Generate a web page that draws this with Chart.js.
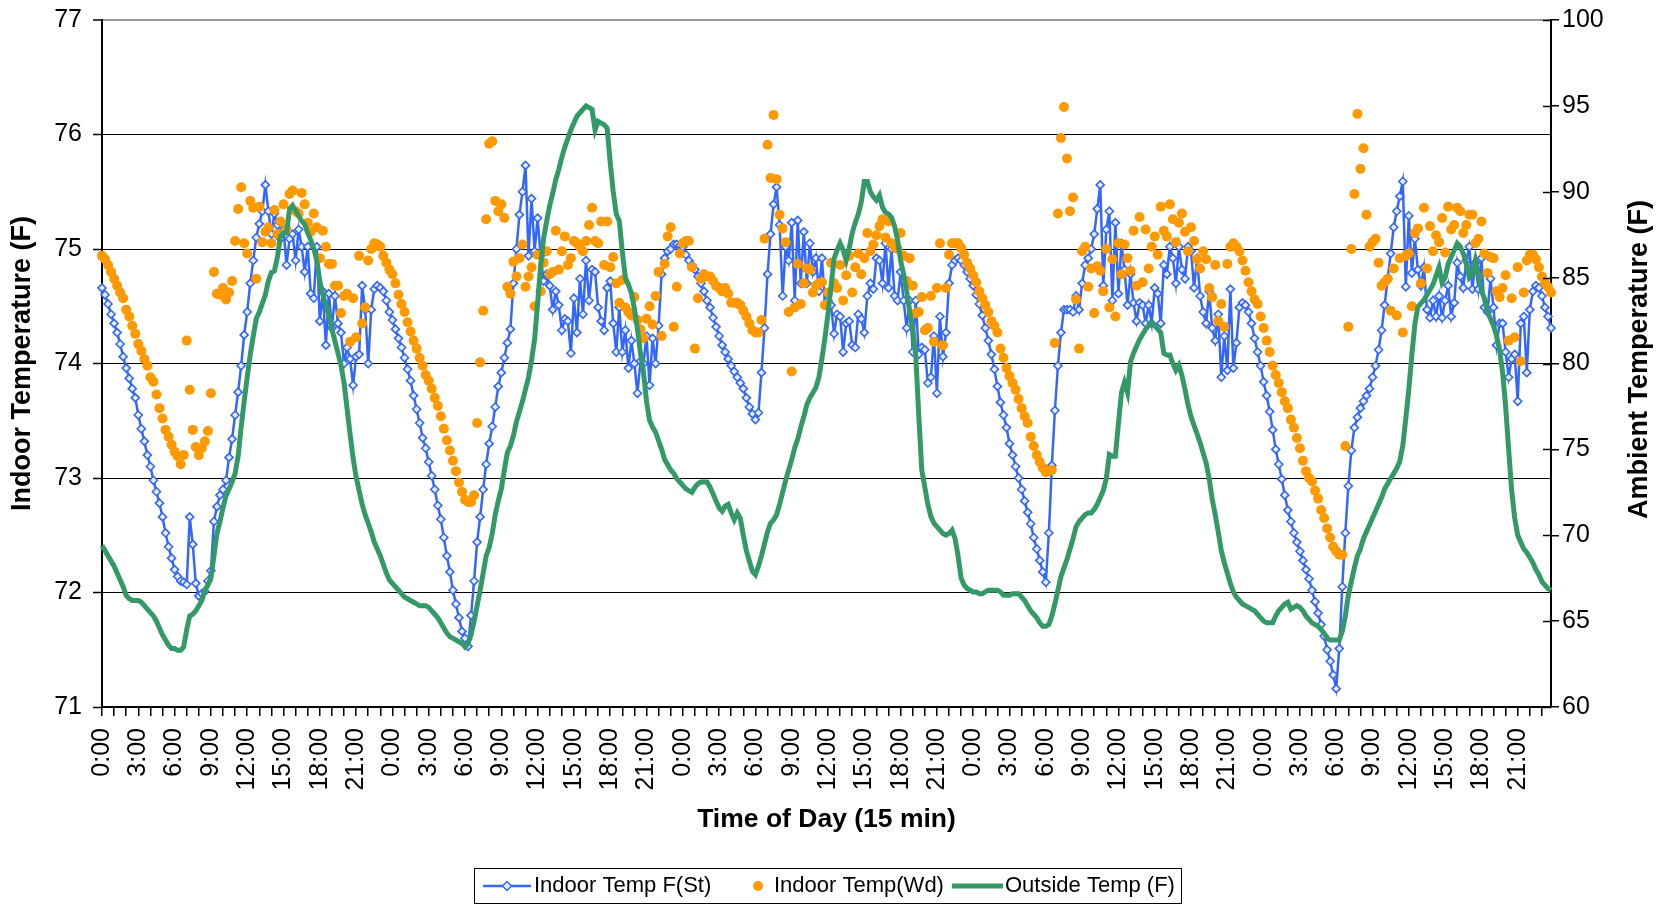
<!DOCTYPE html>
<html>
<head>
<meta charset="utf-8">
<title>Indoor vs Outside Temperature</title>
<script src="https://cdn.jsdelivr.net/npm/chart.js@4.4.1/dist/chart.umd.min.js"></script>
<style>
  html, body { margin: 0; padding: 0; background: #fff; }
  #wrap { position: relative; width: 1664px; height: 906px; }
</style>
</head>
<body>
<div id="wrap"><canvas id="tempChart" width="1664" height="906"></canvas></div>
<script>
// 5 days of 15 minute readings (480 points)
const timeLabels = [];
for (let d = 0; d < 5; d++) {
  for (let h = 0; h < 24; h++) {
    for (let m = 0; m < 60; m += 15) {
      timeLabels.push(h + ':' + (m === 0 ? '00' : m));
    }
  }
}

const indoorSt = [
  74.66,74.60,74.52,74.43, 74.35,74.27,74.17,74.06, 73.96,73.87,73.78,73.70, 73.55,73.43,73.32,73.20, 73.10,72.98,72.88,72.78, 72.66,72.52,72.40,72.30,
  72.20,72.14,72.10,72.09, 72.07,72.66,72.42,72.08, 71.97,71.99,72.01,72.10, 72.19,72.62,72.75,72.85, 72.90,72.98,73.18,73.34, 73.55,73.75,73.98,74.25,
  74.45,74.70,74.90,75.10, 75.22,75.33,75.56,75.33, 75.13,75.31,75.21,75.09, 75.17,74.86,75.09,75.13, 74.90,75.17,75.02,74.80, 75.02,74.61,74.57,75.02,
  74.37,74.63,74.16,74.61, 74.31,74.59,74.35,74.27, 74.00,74.14,74.04,73.81, 74.06,74.08,74.68,74.47, 74.00,74.47,74.65,74.68, 74.66,74.63,74.55,74.45,
  74.38,74.30,74.22,74.14, 74.05,73.95,73.85,73.72, 73.60,73.48,73.35,73.26, 73.14,73.02,72.90,72.76, 72.64,72.48,72.32,72.18, 72.02,71.90,71.78,71.66,
  71.60,71.53,71.80,72.10, 72.44,72.66,72.90,73.12, 73.30,73.45,73.62,73.80, 73.92,74.05,74.18,74.30, 74.70,75.00,75.30,75.50, 75.73,74.94,75.44,74.98,
  75.27,74.94,74.72,74.78, 74.68,74.47,74.63,74.51, 74.29,74.39,74.37,74.09, 74.57,74.27,74.74,74.43, 74.90,74.55,74.82,74.80, 74.49,74.37,74.29,74.66,
  74.72,74.35,74.10,74.49, 74.10,74.29,73.96,74.20, 74.00,73.74,74.02,74.00, 74.24,73.81,74.22,74.00, 74.33,74.78,74.92,74.98, 75.00,75.04,75.04,75.03,
  75.02,74.95,74.90,74.86, 74.82,74.76,74.70,74.63, 74.55,74.49,74.40,74.32, 74.24,74.16,74.10,74.04, 73.98,73.93,73.88,73.83, 73.78,73.70,73.62,73.56,
  73.51,73.57,73.92,74.31, 74.78,75.13,75.39,75.54, 75.21,74.59,75.02,74.90, 75.23,74.55,75.25,74.70, 75.15,74.70,75.05,74.80, 74.92,74.63,74.92,74.51,
  74.55,74.51,74.26,74.43, 74.41,74.10,74.35,74.37, 74.16,74.14,74.43,74.39, 74.27,74.59,74.70,74.65, 74.92,74.90,74.70,75.05, 74.66,75.00,74.59,74.55,
  74.80,74.55,74.31,74.55, 74.10,74.55,74.08,74.14, 74.12,73.83,73.88,74.24, 73.74,74.41,74.06,74.27, 74.70,74.86,74.90,74.92, 74.90,74.86,74.80,74.74,
  74.68,74.60,74.52,74.42, 74.31,74.20,74.08,73.95, 73.80,73.66,73.55,73.44, 73.30,73.20,73.10,73.00, 72.90,72.80,72.70,72.60, 72.48,72.38,72.28,72.18,
  72.09,72.52,73.11,73.59, 73.98,74.27,74.47,74.47, 74.47,74.45,74.59,74.47, 74.70,74.86,74.92,75.00, 75.13,75.35,75.56,74.68, 75.17,75.33,74.55,75.23,
  74.61,75.05,74.82,74.51, 74.78,74.53,74.37,74.53, 74.51,74.35,74.51,74.35, 74.66,74.61,74.35,74.86, 74.78,75.02,74.92,74.70, 75.02,74.82,74.74,75.02,
  74.98,74.66,74.92,74.59, 74.45,74.35,74.63,74.31, 74.20,74.43,73.88,74.24, 73.94,74.65,73.96,74.18, 74.49,74.53,74.51,74.45, 74.35,74.22,74.10,73.98,
  73.84,73.72,73.58,73.42, 73.25,73.12,72.99,72.85, 72.72,72.62,72.52,72.44, 72.36,72.28,72.20,72.12, 72.02,71.92,71.82,71.72, 71.62,71.50,71.40,71.28,
  71.16,71.51,72.05,72.52, 72.93,73.24,73.44,73.53, 73.61,73.67,73.72,73.78, 73.88,73.98,74.12,74.29, 74.51,74.74,74.96,75.19, 75.33,75.46,75.59,74.67,
  75.29,74.79,75.09,74.82, 74.68,74.84,74.47,74.40, 74.55,74.41,74.59,74.40, 74.55,74.68,74.41,74.53, 74.88,74.76,74.66,74.90, 75.02,74.65,74.88,74.65,
  74.92,74.49,74.45,74.74, 74.49,74.16,74.35,74.35, 74.10,73.88,74.04,74.08, 73.67,74.35,74.41,73.92, 74.47,74.63,74.68,74.66, 74.59,74.49,74.41,74.31
];

const indoorWd = [
  74.94,74.91,74.86,74.80, 74.74,74.68,74.62,74.57, 74.47,74.41,74.33,74.26, 74.17,74.11,74.04,73.98, 73.88,73.84,73.73,73.61, 73.52,73.42,73.36,73.29,
  73.23,73.19,73.12,73.20, 74.20,73.77,73.42,73.27, 73.20,73.26,73.32,73.41, 73.74,74.80,74.61,74.60, 74.66,74.56,74.62,74.72, 75.07,75.35,75.54,75.05,
  74.96,75.42,75.36,74.74, 75.37,75.06,75.15,75.19, 75.05,75.34,75.13,75.24, 75.39,75.17,75.48,75.51, 75.33,75.31,75.49,75.39, 75.23,75.15,75.31,75.19,
  74.92,75.16,75.02,74.87, 74.87,74.68,74.68,74.44, 74.59,74.61,74.19,74.57, 74.23,74.94,74.35,74.49, 74.90,75.00,75.05,75.04, 75.02,74.94,74.88,74.82,
  74.78,74.70,74.60,74.52, 74.45,74.36,74.28,74.20, 74.13,74.05,73.98,73.90, 73.85,73.78,73.70,73.63, 73.54,73.43,73.33,73.24, 73.15,73.06,72.96,72.88,
  72.81,72.79,72.79,72.85, 73.48,74.01,74.46,75.26, 75.92,75.94,75.42,75.33, 75.39,75.27,74.67,74.61, 74.89,74.76,74.92,75.04, 74.67,74.76,74.84,74.50,
  74.95,74.63,74.88,74.98, 74.78,74.80,75.16,74.82, 74.98,75.11,74.86,74.92, 75.07,75.05,75.02,74.98, 75.07,75.21,75.36,75.07, 75.05,75.24,74.86,75.24,
  74.84,74.93,74.70,74.53, 74.73,74.49,74.45,74.42, 74.58,74.38,74.30,74.22, 74.39,74.50,74.34,74.59, 74.80,74.24,74.87,75.11, 75.19,74.32,74.67,74.96,
  75.05,75.07,75.07,74.84, 74.13,74.57,74.74,74.78, 74.76,74.76,74.72,74.68, 74.66,74.63,74.66,74.61, 74.53,74.53,74.53,74.51, 74.46,74.41,74.35,74.29,
  74.27,74.27,74.38,75.09, 75.91,75.62,76.17,75.61, 75.30,75.18,75.06,74.45, 73.93,74.49,74.87,74.52, 74.70,74.83,74.82,74.62, 74.68,74.70,74.71,74.51,
  74.62,74.88,74.70,74.66, 74.86,74.55,74.77,74.94, 74.62,74.84,74.96,74.78, 74.92,75.14,74.98,75.04, 75.12,75.20,75.26,75.10, 75.24,75.05,75.02,75.00,
  75.14,74.94,74.72,74.92, 74.68,74.44,74.45,74.58, 74.29,74.31,74.59,74.19, 74.66,75.05,74.16,74.66, 74.95,75.05,75.05,75.05, 75.01,74.95,74.88,74.83,
  74.77,74.71,74.63,74.57, 74.51,74.45,74.37,74.33, 74.27,74.13,74.05,73.96, 73.89,73.83,73.77,73.69, 73.61,73.54,73.48,73.36, 73.28,73.20,73.14,73.09,
  73.05,73.06,73.07,74.18, 75.31,75.97,76.24,75.79, 75.33,75.45,74.56,74.13, 74.98,75.02,74.67,74.83, 74.44,74.85,74.81,74.63, 75.00,74.49,74.91,74.41,
  75.05,74.78,75.04,74.92, 74.81,75.16,74.68,75.28, 74.71,75.17,74.83,75.02, 75.11,74.95,75.37,75.16, 75.11,75.39,75.26,75.06, 75.23,75.31,75.15,74.98,
  75.19,75.07,74.91,74.83, 74.98,74.91,74.66,74.58, 74.86,74.37,74.52,74.32, 74.87,75.02,75.05,75.02, 74.98,74.90,74.81,74.71, 74.63,74.56,74.52,74.41,
  74.31,74.20,74.10,73.98, 73.90,73.83,73.75,73.67, 73.61,73.51,73.44,73.35, 73.26,73.15,73.06,73.00, 72.97,72.89,72.82,72.72, 72.65,72.56,72.48,72.40,
  72.36,72.33,72.33,73.28, 74.32,75.00,75.48,76.18, 75.70,75.88,75.30,75.02, 75.06,75.09,74.88,74.68, 74.71,74.74,74.46,74.83, 74.42,74.92,74.27,74.94,
  74.96,74.50,75.14,75.18, 74.70,75.36,74.83,75.20, 74.98,75.12,75.06,75.27, 74.97,75.37,75.17,75.21, 75.36,75.33,75.14,75.21, 75.30,75.30,75.05,75.09,
  75.24,74.96,74.79,74.93, 74.92,74.63,74.58,74.66, 74.77,74.20,74.57,74.23, 74.84,74.02,74.62,74.90, 74.95,74.95,74.91,74.84, 74.76,74.70,74.67,74.62
];

const outsideTemp = [
  69.4,69.1,68.8,68.5, 68.2,67.8,67.4,67.0, 66.5,66.3,66.2,66.2, 66.2,66.1,65.9,65.7, 65.5,65.3,65.0,64.6, 64.2,63.9,63.6,63.4,
  63.4,63.3,63.3,63.5, 64.5,65.3,65.4,65.6, 65.9,66.2,66.8,67.1, 67.5,68.8,70.1,70.8, 71.6,72.3,72.7,73.1, 73.6,74.6,76.3,77.8,
  79.2,80.5,81.6,82.6, 83.0,83.5,84.0,84.8, 85.3,85.4,86.2,87.4, 87.6,87.6,89.0,89.2, 88.9,88.6,88.3,88.1, 87.6,87.2,86.7,86.0,
  84.8,84.0,83.4,82.8, 82.0,81.3,80.6,79.9, 78.9,77.4,75.9,74.5, 73.4,72.6,71.8,71.2, 70.7,70.2,69.6,69.2, 68.8,68.3,67.8,67.4,
  67.2,67.0,66.8,66.6, 66.4,66.3,66.2,66.1, 66.0,65.9,65.9,65.9, 65.8,65.6,65.4,65.2, 64.9,64.6,64.3,64.1, 64.0,63.9,63.8,63.7,
  63.5,63.7,64.2,65.0, 65.9,66.8,67.8,68.8, 69.3,70.1,71.2,72.0, 72.7,73.8,74.8,75.2, 75.8,76.6,77.2,77.8, 78.5,79.2,80.2,81.4,
  83.5,85.7,87.3,88.3, 89.2,89.9,90.7,91.3, 92.0,92.6,93.1,93.6, 94.0,94.4,94.6,94.8, 95.0,94.9,94.8,93.6, 94.1,94.0,93.9,93.7,
  91.7,90.0,88.7,88.3, 86.5,85.0,84.6,84.1, 83.2,82.0,80.6,79.5, 77.8,76.7,76.3,76.0, 75.5,75.0,74.4,74.1, 73.8,73.6,73.3,73.1,
  72.9,72.7,72.6,72.5, 72.8,73.0,73.1,73.1, 73.1,72.8,72.4,72.0, 71.6,71.4,71.7,71.8, 71.3,70.9,71.3,71.0, 70.0,69.1,68.5,67.9,
  67.7,68.2,68.8,69.5, 70.2,70.7,70.9,71.2, 71.8,72.5,73.2,73.8, 74.4,75.1,75.6,76.3, 76.9,77.6,78.0,78.3, 78.6,79.2,80.3,81.5,
  82.9,84.5,86.1,86.6, 87.0,86.6,86.0,86.7, 87.6,88.2,88.7,89.4, 90.6,90.6,90.0,89.7, 89.5,89.8,89.1,88.8, 88.7,88.5,88.0,87.2,
  86.0,85.2,84.2,83.0, 82.0,80.5,77.0,73.8, 72.8,71.8,71.1,70.7, 70.5,70.3,70.1,70.0, 70.1,70.3,69.8,68.8, 67.5,67.1,66.9,66.8,
  66.7,66.7,66.6,66.6, 66.7,66.8,66.8,66.8, 66.8,66.7,66.5,66.5, 66.5,66.6,66.6,66.6, 66.4,66.2,65.9,65.6, 65.4,65.2,64.9,64.7,
  64.7,64.8,65.3,66.0, 66.8,67.6,68.1,68.6, 69.2,69.8,70.5,70.8, 71.0,71.2,71.3,71.3, 71.5,71.8,72.2,72.6, 73.3,74.7,74.6,74.6,
  76.5,78.3,78.9,78.3, 80.1,80.6,81.0,81.4, 81.7,82.0,82.2,82.4, 82.2,82.0,81.8,80.6, 80.5,80.5,80.0,79.6, 79.9,79.3,78.5,77.6,
  76.9,76.4,75.9,75.4, 74.8,74.2,73.3,72.1, 71.2,70.2,69.1,68.4, 67.8,67.2,66.7,66.4, 66.2,66.0,65.9,65.8, 65.7,65.6,65.4,65.2,
  65.0,64.9,64.9,64.9, 65.3,65.6,65.8,66.0, 66.1,65.7,65.8,65.9, 65.8,65.6,65.3,65.1, 64.9,64.8,64.7,64.5, 64.3,64.0,63.9,63.9,
  63.9,63.9,64.4,65.3, 66.5,67.3,68.1,68.8, 69.2,69.8,70.2,70.6, 71.0,71.4,71.8,72.2, 72.7,73.0,73.3,73.6, 73.9,74.3,75.2,76.8,
  78.5,80.5,82.3,83.3, 83.5,83.7,84.0,84.3, 84.6,85.1,85.6,84.7, 85.0,85.8,86.2,86.6, 87.0,86.8,86.4,85.8, 85.0,85.2,86.0,85.2,
  84.2,83.8,83.0,82.6, 82.2,81.6,80.8,79.5, 77.5,75.0,72.6,71.0, 70.0,69.6,69.2,69.0, 68.7,68.4,68.0,67.7, 67.3,67.1,66.9,66.8
];

const leftTicks = [71, 72, 73, 74, 75, 76, 77];
const rightTicks = [60, 65, 70, 75, 80, 85, 90, 95, 100];

if (indoorSt.length !== 480 || indoorWd.length !== 480 || outsideTemp.length !== 480) {
  throw new Error('lengths ' + indoorSt.length + ' ' + indoorWd.length + ' ' + outsideTemp.length);
}

const BLUE = '#3366ff';
const ORANGE = '#ff9900';
const GREEN = '#339966';
const FONT = "'Liberation Sans', Arial, sans-serif";

Chart.defaults.font.family = FONT;
Chart.defaults.color = '#000';

// legend box, right hand title and the crossing ticks of the right axis
const extras = {
  id: 'extras',
  afterDraw(chart) {
    const ctx = chart.ctx;
    const y2 = chart.scales.y2;
    const area = chart.chartArea;
    ctx.save();

    ctx.strokeStyle = '#000';
    ctx.lineWidth = 1.5;
    y2.ticks.forEach(t => {
      const py = Math.round(y2.getPixelForValue(t.value)) + 0.5;
      ctx.beginPath();
      ctx.moveTo(area.right - 8, py);
      ctx.lineTo(area.right, py);
      ctx.stroke();
    });

    ctx.fillStyle = '#000';
    ctx.font = 'bold 27px ' + FONT;
    ctx.textAlign = 'center';
    ctx.textBaseline = 'middle';
    ctx.translate(1640, (area.top + area.bottom) / 2 - 4);
    ctx.rotate(-Math.PI / 2);
    ctx.fillText('Ambient Temperature (F)', 0, 0);
    ctx.restore();

    // legend
    ctx.save();
    ctx.strokeStyle = '#000';
    ctx.lineWidth = 1;
    ctx.strokeRect(474.5, 868.5, 707, 35);
    const ly = 886;
    ctx.font = '22px ' + FONT;
    ctx.textAlign = 'left';
    ctx.textBaseline = 'middle';
    ctx.fillStyle = '#000';

    ctx.strokeStyle = BLUE;
    ctx.lineWidth = 2.5;
    ctx.beginPath(); ctx.moveTo(483, ly); ctx.lineTo(531, ly); ctx.stroke();
    ctx.fillStyle = '#e8eeff';
    ctx.lineWidth = 1.5;
    ctx.beginPath();
    ctx.moveTo(507, ly - 4.5); ctx.lineTo(511.5, ly); ctx.lineTo(507, ly + 4.5); ctx.lineTo(502.5, ly);
    ctx.closePath(); ctx.fill(); ctx.stroke();
    ctx.fillStyle = '#000';
    ctx.fillText('Indoor Temp F(St)', 534, ly);

    ctx.fillStyle = ORANGE;
    ctx.beginPath(); ctx.arc(758, ly, 5, 0, Math.PI * 2); ctx.fill();
    ctx.fillStyle = '#000';
    ctx.fillText('Indoor Temp(Wd)', 774, ly);

    ctx.strokeStyle = GREEN;
    ctx.lineWidth = 5;
    ctx.beginPath(); ctx.moveTo(952, ly); ctx.lineTo(1003, ly); ctx.stroke();
    ctx.fillText('Outside Temp (F)', 1005, ly);
    ctx.restore();
  }
};

// keep the plot area where the reference has it (no extra room for edge labels)
function fixVertical(width) {
  return s => {
    s.width = width;
    s.paddingTop = 0;
    s.paddingBottom = 0;
  };
}

const chartEl = document.getElementById('tempChart');
new Chart(chartEl, {
  type: 'line',
  data: {
    labels: timeLabels,
    datasets: [
      {
        label: 'Indoor Temp F(St)',
        data: indoorSt,
        yAxisID: 'y',
        order: 3,
        borderColor: BLUE,
        borderWidth: 2.5,
        pointStyle: 'rectRot',
        pointRadius: 4,
        pointBorderWidth: 1.6,
        pointBorderColor: BLUE,
        pointBackgroundColor: '#e8eeff',
        tension: 0
      },
      {
        label: 'Indoor Temp(Wd)',
        data: indoorWd,
        yAxisID: 'y',
        order: 2,
        showLine: false,
        pointStyle: 'circle',
        pointRadius: 5,
        pointBorderWidth: 0,
        pointBackgroundColor: ORANGE,
        borderColor: ORANGE
      },
      {
        label: 'Outside Temp (F)',
        data: outsideTemp,
        yAxisID: 'y2',
        order: 1,
        borderColor: GREEN,
        borderWidth: 5,
        pointRadius: 0,
        tension: 0
      }
    ]
  },
  options: {
    responsive: false,
    animation: false,
    devicePixelRatio: 1,
    layout: { padding: { left: 0, right: 0, top: 20, bottom: 70 } },
    plugins: {
      legend: { display: false },
      tooltip: { enabled: false }
    },
    scales: {
      x: {
        offset: false,
        afterFit: s => { s.height = 129; s.paddingLeft = 0; s.paddingRight = 0; },
        grid: {
          drawOnChartArea: false,
          drawTicks: true,
          tickLength: 9,
          lineWidth: 1.5,
          color: c => (c.index % 4 === 0 ? '#000' : 'rgba(0,0,0,0)')
        },
        border: { display: true, color: '#000', width: 2 },
        ticks: {
          autoSkip: false,
          minRotation: 90,
          maxRotation: 90,
          padding: 12,
          font: { size: 25 },
          callback: (v, i) => (i % 12 === 0 ? timeLabels[i] : '')
        },
        title: {
          display: true,
          text: 'Time of Day (15 min)',
          font: { size: 26.5, weight: 'bold' },
          padding: { top: 0, bottom: 0 }
        }
      },
      y: {
        position: 'left',
        min: 71,
        max: 77,
        afterFit: fixVertical(102),
        afterBuildTicks: s => { s.ticks = leftTicks.map(v => ({ value: v })); },
        grid: {
          color: c => (c.tick && c.tick.value === 77 ? '#9a9a9a' : '#000'),
          lineWidth: c => (c.tick && c.tick.value === 77 ? 2 : 1),
          tickLength: 9,
          tickColor: '#000',
          tickWidth: 1.5
        },
        border: { display: true, color: '#000', width: 2 },
        ticks: { font: { size: 25 }, padding: 11 },
        title: {
          display: true,
          text: 'Indoor Temperature (F)',
          font: { size: 27, weight: 'bold' },
          padding: { top: 6, bottom: 0 }
        }
      },
      y2: {
        position: 'right',
        min: 60,
        max: 100,
        afterFit: fixVertical(113),
        afterBuildTicks: s => { s.ticks = rightTicks.map(v => ({ value: v })); },
        grid: {
          drawOnChartArea: false,
          tickLength: 8,
          lineWidth: 1.5,
          color: '#000'
        },
        border: { display: true, color: '#000', width: 2 },
        ticks: { font: { size: 25 }, padding: 3 }
      }
    }
  },
  plugins: [extras]
});
</script>
</body>
</html>
